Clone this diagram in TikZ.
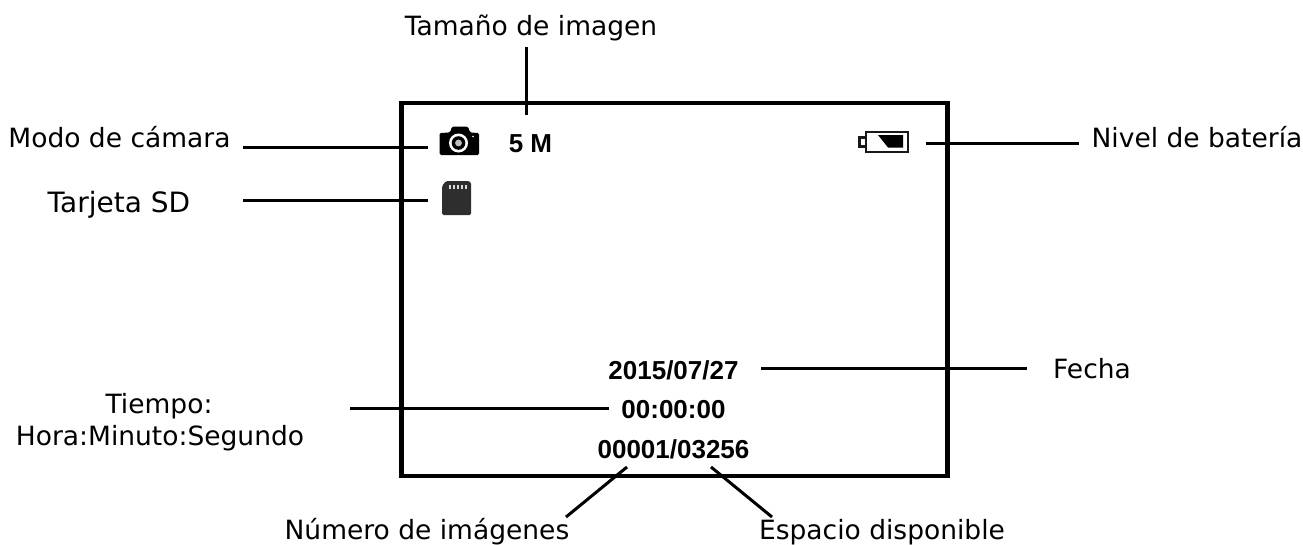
\documentclass[tikz,border=0pt]{standalone}
\usepackage{fontspec}
\setmainfont{DejaVu Sans}
\newfontfamily\lib{Liberation Sans}
\begin{document}
\begin{tikzpicture}[x=1pt,y=-1pt,
  lab/.style={font=\fontsize{26.5}{32}\selectfont,inner sep=0pt,align=center,text=black,anchor=base},
  val/.style={font=\lib\bfseries\fontsize{26}{30}\selectfont,inner sep=0pt,text=black,anchor=base},
  lead/.style={draw=black,line width=3pt},
  frame/.style={draw=black,line width=4.2pt}]
\useasboundingbox (0,0) rectangle (1303,544);
\draw[frame] (401.5,103) rectangle (947.5,476);
% texts
\node[lab] (tam) at (531,35) {Tamaño de imagen};
\node[lab] (modo) at (119.5,147.5) {Modo de cámara};
\node[lab,font=\fontsize{28}{32}\selectfont] (sd) at (119,212.5) {Tarjeta SD};
\node[lab] (bat) at (1197,147) {Nivel de batería};
\node[lab] (fecha) at (1092,378) {Fecha};
\node[lab] (tiempoa) at (159,413) {Tiempo:};
\node[lab] (tiempob) at (160,445) {Hora:Minuto:Segundo};
\node[lab] (num) at (427,539) {Número de imágenes};
\node[lab] (esp) at (882,539) {Espacio disponible};
\node[val] (m5) at (530.5,152) {5 M};
\node[val] (date) at (673.5,379) {2015/07/27};
\node[val] (time) at (673.5,418) {00:00:00};
\node[val] (count) at (673.5,458) {00001/03256};
% connector ends
\coordinate (a1) at (526,47); \coordinate (a2) at (526,115);
\coordinate (b1) at (243,147); \coordinate (b2) at (428,147);
\coordinate (c1) at (243,200.5); \coordinate (c2) at (428,200.5);
\coordinate (d1) at (926,143); \coordinate (d2) at (1079,143);
\coordinate (e1) at (761,368); \coordinate (e2) at (1027,368);
\coordinate (f1) at (350,408.5); \coordinate (f2) at (609,408.5);
\coordinate (g1) at (627,467); \coordinate (g2) at (566,517);
\coordinate (h1) at (711,467); \coordinate (h2) at (772,517);
\foreach \p/\q in {a1/a2,b1/b2,c1/c2,d1/d2,e1/e2,f1/f2,g1/g2,h1/h2}
  \draw[lead] (\p) -- (\q);
% camera icon
\fill[black,rounded corners=1.5pt] (439.5,133) -- (450,132.5) -- (452,126.5) -- (468,126.5) -- (470,132.5) -- (479,133) -- (479,155) -- (439.5,155) -- cycle;
\fill[white] (458.5,143) circle (9.5pt);
\fill[black] (458.5,143) circle (6.8pt);
\fill[black!25] (458.5,143) circle (3.4pt);
\fill[white] (473,136.5) circle (0.9pt);
% sd card icon
\fill[black!82,rounded corners=1.5pt] (446,181) -- (469,181) -- (471,182.5) -- (471,215) -- (442,215) -- (442,186) -- cycle;
\foreach \x in {449,453,457,461,465}
  \fill[black!15] (\x,184.5) rectangle +(2.4,4);
% battery icon
\draw[black!90,line width=2.2pt] (859.5,137.5) rectangle (866,146.5);
\draw[black!90,line width=2.6pt,fill=white] (866,132) rectangle (908,152);
\fill[black] (878,135) -- (903,135) -- (903,147.5) -- (888,147.5) -- cycle;
\end{tikzpicture}
\end{document}
